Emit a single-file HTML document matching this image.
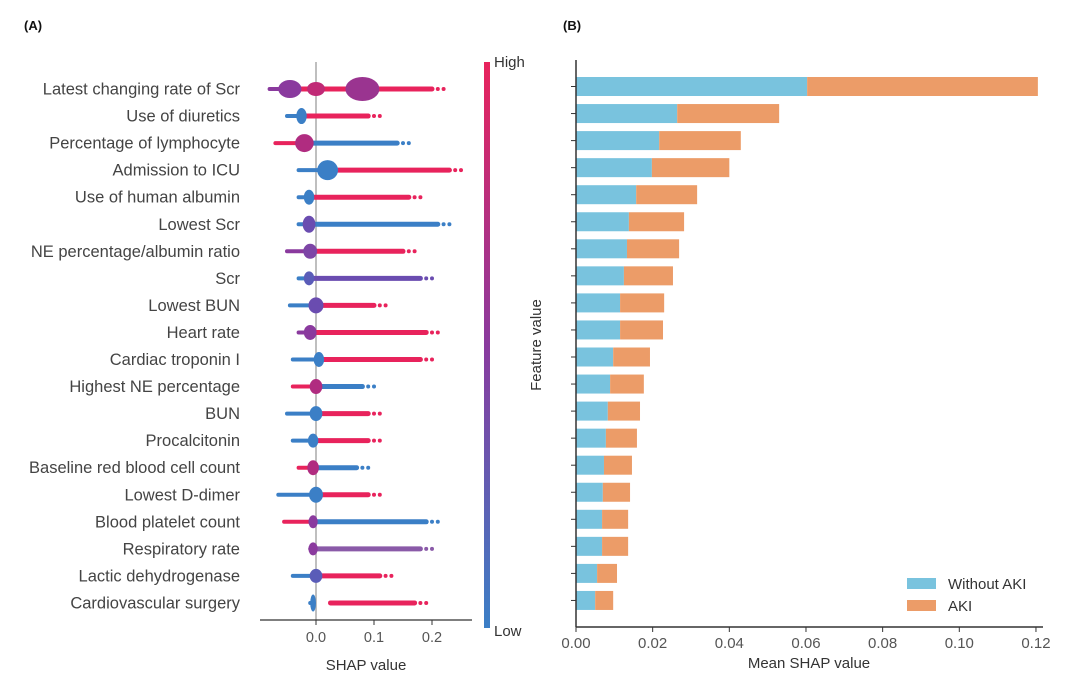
<!DOCTYPE html>
<html><head><meta charset="utf-8"><style>
body{margin:0;background:#fff;}
svg{display:block;font-family:"Liberation Sans","DejaVu Sans",sans-serif;}
</style></head><body>
<svg id="fig" width="1080" height="677" viewBox="0 0 1080 677" xmlns="http://www.w3.org/2000/svg">
<defs><linearGradient id="cb" x1="0" y1="1" x2="0" y2="0"><stop offset="0" stop-color="#3b7fc6"/><stop offset="0.5" stop-color="#8a3a9e"/><stop offset="1" stop-color="#e8235c"/></linearGradient></defs>
<text x="24" y="30" font-size="13" font-weight="bold" fill="#111">(A)</text>
<text x="563" y="30" font-size="13" font-weight="bold" fill="#111">(B)</text>
<g id="pa"></g>
<g id="pb"></g>
</svg>
<script>
const features=["Latest changing rate of Scr","Use of diuretics","Percentage of lymphocyte","Admission to ICU","Use of human albumin","Lowest Scr","NE percentage/albumin ratio","Scr","Lowest BUN","Heart rate","Cardiac troponin I","Highest NE percentage","BUN","Procalcitonin","Baseline red blood cell count","Lowest D-dimer","Blood platelet count","Respiratory rate","Lactic dehydrogenase","Cardiovascular surgery"];
// beeswarm summary (SHAP units)
const blobC=[-0.045,-0.025,-0.02,0.02,-0.012,-0.012,-0.01,-0.012,0.0,-0.01,0.005,0.0,0.0,-0.005,-0.005,0.0,-0.005,-0.005,0.0,-0.005];
const blobW=[0.02,0.009,0.016,0.018,0.009,0.011,0.012,0.009,0.013,0.011,0.009,0.011,0.011,0.009,0.01,0.012,0.008,0.008,0.011,0.005];
const blobH=[18,16,18,20,15,17,15,14,16,15,15,15,15,14,15,16,13,13,14,17];
const blobCol=["#8a3a9e","#3b7fc6","#b02c80","#3b7fc6","#3b7fc6","#6a4cb0","#7d45a6","#5a5cb8","#6a4cb0","#8a3a9e","#3b7fc6","#b02c80","#3b7fc6","#3b7fc6","#b02c80","#3b7fc6","#8a3a9e","#8a3a9e","#5a5cb8","#3b7fc6"];
const mainC=[0.08,null,null,null,null,null,null,null,null,null,null,null,null,null,null,null,null,null,null,null];
const lo=[-0.08,-0.05,-0.07,-0.03,-0.03,-0.03,-0.05,-0.03,-0.045,-0.03,-0.04,-0.04,-0.05,-0.04,-0.03,-0.065,-0.055,-0.01,-0.04,-0.01];
const hi=[0.22,0.11,0.16,0.25,0.18,0.23,0.17,0.2,0.12,0.21,0.2,0.1,0.11,0.11,0.09,0.11,0.21,0.2,0.13,0.19];
const loCol=["#8a3a9e","#3b7fc6","#e8235c","#3b7fc6","#3b7fc6","#3b7fc6","#8a3a9e","#3b7fc6","#3b7fc6","#8a3a9e","#3b7fc6","#e8235c","#3b7fc6","#3b7fc6","#e8235c","#3b7fc6","#e8235c","#8a3a9e","#3b7fc6","#3b7fc6"];
const hiCol=["#e8235c","#e8235c","#3b7fc6","#e8235c","#e8235c","#3b7fc6","#e8235c","#6a4cb0","#e8235c","#e8235c","#e8235c","#3b7fc6","#e8235c","#e8235c","#3b7fc6","#e8235c","#3b7fc6","#8a5aa8","#e8235c","#e8235c"];
const shapTicks=[0.0,0.1,0.2];
// mean SHAP bars
const withoutAKI=[0.0603,0.0264,0.0217,0.0198,0.0157,0.0138,0.0133,0.0125,0.0115,0.0115,0.0097,0.0089,0.0083,0.0078,0.0073,0.0070,0.0068,0.0068,0.0055,0.0050];
const aki=[0.0602,0.0266,0.0213,0.0202,0.0159,0.0144,0.0136,0.0128,0.0115,0.0112,0.0096,0.0088,0.0084,0.0081,0.0073,0.0071,0.0068,0.0068,0.0052,0.0047];
const meanTicks=[0,0.02,0.04,0.06,0.08,0.10,0.12];

const NS="http://www.w3.org/2000/svg";
function mk(p,t,a){const e=document.createElementNS(NS,t);for(const k in a)e.setAttribute(k,a[k]);p.appendChild(e);return e;}
const pa=document.getElementById('pa'),pb=document.getElementById('pb');
// Panel A
const ax=v=>316+v*580, ay=i=>89+i*27.05;
let l=mk(pa,'line',{x1:ax(0),x2:ax(0),y1:62,y2:620,stroke:'#aaa','stroke-width':1.5});


features.forEach((f,i)=>{
  const y=ay(i);
  let t=mk(pa,'text',{x:240,y:y+5.5,'font-size':16.5,fill:'#444','text-anchor':'end'});t.textContent=f;
  
  
  const g=mk(pa,'g',{});
  
  
  mk(g,'line',{x1:ax(lo[i]),x2:ax(blobC[i]),y1:y,y2:y,stroke:loCol[i],'stroke-width':4,'stroke-linecap':'round'});
  const st=i==19?ax(0.025):ax(blobC[i]);
  mk(g,'line',{x1:st,x2:ax(hi[i]-0.02),y1:y,y2:y,stroke:hiCol[i],'stroke-width':5,'stroke-linecap':'round'});
  for(let k=0;k<3;k++)mk(g,'circle',{cx:ax(hi[i]-0.02+k*0.01),cy:y,r:2,fill:hiCol[i]});
  mk(g,'ellipse',{cx:ax(blobC[i]),cy:y,rx:blobW[i]*580,ry:blobH[i]/2,fill:blobCol[i]});
  if(mainC[i]!==null){mk(g,'ellipse',{cx:ax(0),cy:y,rx:9,ry:7,fill:'#c02a76'});mk(g,'ellipse',{cx:ax(mainC[i]),cy:y,rx:17,ry:12,fill:'#9a3490'});}
});
mk(pa,'line',{x1:260,x2:472,y1:620,y2:620,stroke:'#333','stroke-width':1.2});
shapTicks.forEach(v=>{mk(pa,'line',{x1:ax(v),x2:ax(v),y1:620,y2:625,stroke:'#333'});
  let t=mk(pa,'text',{x:ax(v),y:642,'font-size':14.5,fill:'#555','text-anchor':'middle'});t.textContent=v.toFixed(1);
  
  });
let xt=mk(pa,'text',{x:366,y:670,'font-size':15,fill:'#333','text-anchor':'middle'});xt.textContent='SHAP value';


let cb=mk(pa,'rect',{x:484,y:62,width:6,height:566,fill:'url(#cb)'});


let hiT=mk(pa,'text',{x:494,y:67,'font-size':15,fill:'#333'});hiT.textContent='High';


let loT=mk(pa,'text',{x:494,y:636,'font-size':15,fill:'#333'});loT.textContent='Low';


// Panel B
const bx=v=>576+v*3833, by=i=>86.5+i*27.05;
features.forEach((f,i)=>{
  const y=by(i);
  let r1=mk(pb,'rect',{x:bx(0),y:y-9.5,width:bx(withoutAKI[i])-bx(0),height:19,fill:'#79c3de'});
  
  
  let r2=mk(pb,'rect',{x:bx(withoutAKI[i]),y:y-9.5,width:bx(withoutAKI[i]+aki[i])-bx(withoutAKI[i]),height:19,fill:'#ec9c68'});
  
  
  mk(pb,'line',{x1:571,x2:576,y1:y,y2:y,stroke:'#333'});
});
mk(pb,'line',{x1:576,x2:576,y1:60,y2:627,stroke:'#333','stroke-width':1.5});
mk(pb,'line',{x1:576,x2:1043,y1:627,y2:627,stroke:'#333','stroke-width':1.5});
meanTicks.forEach(v=>{mk(pb,'line',{x1:bx(v),x2:bx(v),y1:627,y2:632,stroke:'#333'});
  let t=mk(pb,'text',{x:bx(v),y:648,'font-size':15,fill:'#555','text-anchor':'middle'});t.textContent=v.toFixed(2);
  
  });
let bt=mk(pb,'text',{x:809,y:668,'font-size':15,fill:'#333','text-anchor':'middle'});bt.textContent='Mean SHAP value';


let yt=mk(pb,'text',{x:0,y:0,'font-size':15,fill:'#333','text-anchor':'middle',transform:'translate(541,345) rotate(-90)'});yt.textContent='Feature value';


const lg=mk(pb,'g',{});


mk(lg,'rect',{x:907,y:578,width:29,height:11,fill:'#79c3de'});
mk(lg,'rect',{x:907,y:600,width:29,height:11,fill:'#ec9c68'});
let l1=mk(lg,'text',{x:948,y:589,'font-size':15,fill:'#333'});l1.textContent='Without AKI';


let l2=mk(lg,'text',{x:948,y:611,'font-size':15,fill:'#333'});l2.textContent='AKI';


</script>
</body></html>
